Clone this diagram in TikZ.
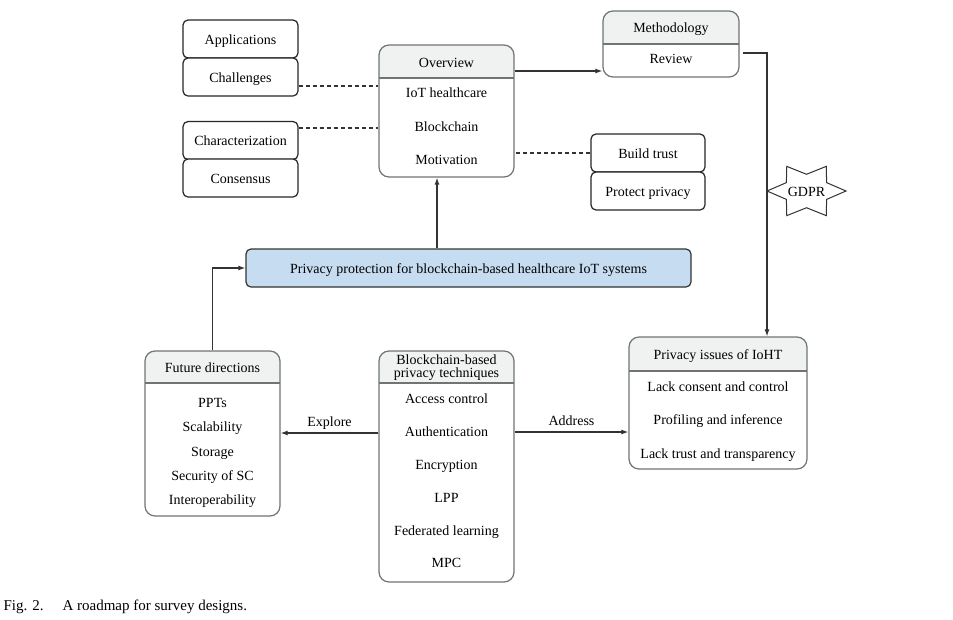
\documentclass[tikz,border=0pt]{standalone}
\usepackage{fontspec}
\setmainfont{Liberation Serif}
\usepackage{xcolor}
\usepackage{tikz}
\usetikzlibrary{positioning, arrows.meta, calc, shapes.geometric}
\definecolor{headgray}{HTML}{F0F1F1}
\definecolor{panelgray}{HTML}{707474}
\definecolor{boxblack}{HTML}{262626}
\definecolor{lineblack}{HTML}{333333}
\definecolor{topicblue}{HTML}{C6DDF1}

\tikzset{
  entry/.style={text height=10.5pt, text depth=0.5pt},
  tag/.style={draw=boxblack, line width=1.2pt, rounded corners=5pt, fill=white,
    minimum width=115pt, minimum height=38pt, inner sep=0pt, entry},
  panel/.style={draw=panelgray, line width=1.2pt, rounded corners=10pt, fill=white, inner sep=0pt,
    path picture={
      \fill[headgray, sharp corners] (path picture bounding box.north west)
        rectangle ([yshift=-#1]path picture bounding box.north east);
      \draw[panelgray, line width=1.2pt, sharp corners] ([yshift=-#1]path picture bounding box.north west)
        -- ([yshift=-#1]path picture bounding box.north east);}},
  link/.style={draw=lineblack, line width=1.2pt, -{Latex[length=7pt,width=5pt]}},
  dashlink/.style={draw=lineblack, line width=1.2pt, dash pattern=on 4pt off 3pt},
}

\begin{document}
\begin{tikzpicture}[x=1pt, y=-1pt, font=\fontsize{14}{17}\selectfont]
  \useasboundingbox (0,0) rectangle (953,619);

  % left tags
  \node[tag] (apps) at (240.5,39) {Applications};
  \node[tag] (chall) at (240.5,77) {Challenges};
  \node[tag] (charac) at (240.5,140.5) {Characterization};
  \node[tag] (consensus) at (240.5,178) {Consensus};

  % overview
  \node[panel=33pt, minimum width=135pt, minimum height=132pt] (overview) at (446.5,111) {};
  \node[entry] (ovtitle) at (446.5,62) {Overview};
  \node[entry] (iot) at (446.5,92) {IoT healthcare};
  \node[entry] (chain) at (446.5,126) {Blockchain};
  \node[entry] (motiv) at (446.5,159) {Motivation};

  % methodology
  \node[panel=33pt, minimum width=136pt, minimum height=66pt] (method) at (671,44) {};
  \node[entry] (mtitle) at (671,27.5) {Methodology};
  \node[entry] (review) at (671,58.5) {Review};

  \node[tag, minimum width=114pt] (trust) at (648,153) {Build trust};
  \node[tag, minimum width=114pt] (protect) at (648,191) {Protect privacy};

  % topic
  \node[draw=lineblack, fill=topicblue, line width=1.2pt, rounded corners=5pt,
        minimum width=445pt, minimum height=38pt, entry] (topic) at (468.5,268)
        {Privacy protection for blockchain-based healthcare IoT systems};

  % future directions
  \node[panel=32pt, minimum width=135pt, minimum height=165pt] (future) at (212.5,433.5) {};
  \node[entry] (ftitle) at (212.5,367) {Future directions};
  \node[entry] (ppts) at (212.5,402) {PPTs};
  \node[entry] (scal) at (212.5,426) {Scalability};
  \node[entry] (stor) at (212.5,451) {Storage};
  \node[entry] (secsc) at (212.5,475) {Security of SC};
  \node[entry] (interop) at (212.5,499) {Interoperability};

  % techniques
  \node[panel=32pt, minimum width=135pt, minimum height=231pt] (tech) at (446.5,466.5) {};
  \node[align=center, font=\fontsize{14}{13}\selectfont] (ttitle) at (446.5,367.5)
        {Blockchain-based\\privacy techniques};
  \node[entry] (access) at (446.5,398) {Access control};
  \node[entry] (auth) at (446.5,431) {Authentication};
  \node[entry] (encr) at (446.5,464) {Encryption};
  \node[entry] (lpp) at (446.5,497) {LPP};
  \node[entry] (fedl) at (446.5,530) {Federated learning};
  \node[entry] (mpc) at (446.5,562) {MPC};

  % privacy issues
  \node[panel=34pt, minimum width=178pt, minimum height=132pt] (issues) at (718,403) {};
  \node[entry] (ititle) at (718,354.5) {Privacy issues of IoHT};
  \node[entry] (consent) at (718,386) {Lack consent and control};
  \node[entry] (profil) at (718,419) {Profiling and inference};
  \node[entry] (transp) at (718,453) {Lack trust and transparency};

  % gdpr
  \node[draw=lineblack, line width=1pt, star, star points=6, star point ratio=1.7,
        shape border rotate=90, minimum size=79pt, inner sep=0pt,
        yscale=0.72, transform shape] (gdprstar) at (806.5,191) {};
  \node[entry] (gdpr) at (806.5,191) {GDPR};

  % connectors
  \draw[dashlink] ([yshift=-9pt]chall.east) -- ([yshift=-9pt]chall.east -| overview.west);
  \draw[dashlink] ([yshift=12.5pt]charac.east) -- ([yshift=12.5pt]charac.east -| overview.west);
  \draw[dashlink] (trust.west) -- (trust.west -| overview.east);
  \draw[link] ([yshift=-27pt]method.west -| overview.east) -- ([yshift=-27pt]method.west);
  \draw[link] ([xshift=3pt,yshift=-9pt]method.east) -| ([xshift=49pt]issues.north);
  \draw[link] ([xshift=-31.5pt]topic.north) -- ([xshift=-31.5pt]topic.north |- overview.south);
  \draw[link] (future.north) |- (topic.west);
  \draw[link] ([yshift=33.5pt]tech.west) -- ([yshift=33.5pt]tech.west -| future.east)
        node[entry, midway, above=2pt] (explore) {Explore};
  \draw[link] ([yshift=34.5pt]tech.east) -- ([yshift=34.5pt]tech.east -| issues.west)
        node[entry, midway, above=2pt] (address) {Address};

  % caption
  \node[entry, anchor=west, font=\fontsize{15}{18}\selectfont] (figno) at (0,605) {Fig. 2.};
  \node[entry, anchor=west, font=\fontsize{15}{18}\selectfont] (figtext) at (59,605) {A roadmap for survey designs.};
\end{tikzpicture}
\end{document}
